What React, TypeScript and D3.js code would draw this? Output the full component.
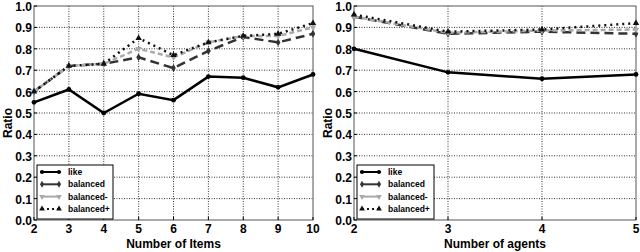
import React from 'react';
import * as d3 from 'd3';

// data
const itemCounts = [2, 3, 4, 5, 6, 7, 8, 9, 10];
const itemsLike = [0.55, 0.61, 0.5, 0.59, 0.56, 0.67, 0.665, 0.62, 0.68];
const itemsBalanced = [0.6, 0.72, 0.73, 0.76, 0.71, 0.79, 0.855, 0.83, 0.87];
const itemsBalancedMinus = [0.6, 0.72, 0.73, 0.8, 0.76, 0.83, 0.86, 0.86, 0.9];
const itemsBalancedPlus = [0.6, 0.72, 0.73, 0.85, 0.77, 0.83, 0.86, 0.87, 0.92];

const agentCounts = [2, 3, 4, 5];
const agentsLike = [0.8, 0.69, 0.66, 0.68];
const agentsBalanced = [0.95, 0.87, 0.88, 0.87];
const agentsBalancedMinus = [0.95, 0.875, 0.885, 0.89];
const agentsBalancedPlus = [0.96, 0.88, 0.89, 0.92];

const seriesNames = ['like', 'balanced', 'balanced-', 'balanced+'];
const yTicks = [0, 0.1, 0.2, 0.3, 0.4, 0.5, 0.6, 0.7, 0.8, 0.9, 1.0];

const styles = [
  { color: '#000', dash: null, symbol: d3.symbolCircle, rot: 0 },
  { color: '#333', dash: '9,5', symbol: d3.symbolDiamond, rot: 0 },
  { color: '#aaa', dash: '5,3', symbol: d3.symbolTriangle, rot: 180 },
  { color: '#111', dash: '2,4', symbol: d3.symbolTriangle, rot: 0 }
];

const font = '"Liberation Sans", Arial, sans-serif';

function Panel(props) {
  const { left, right, top, bottom, xs, series, xlabel, legendW } = props;
  const x = d3.scaleLinear().domain([xs[0], xs[xs.length - 1]]).range([left, right]);
  const y = d3.scaleLinear().domain([0, 1]).range([bottom, top]);
  const line = d3
    .line()
    .x((d, i) => x(xs[i]))
    .y(d => y(d));

  const lgX = left + 3;
  const lgY = bottom - 55;

  return (
    <g>
      {/* grid */}
      {yTicks.slice(1, -1).map(t => (
        <line key={'gy' + t} x1={left} x2={right} y1={y(t)} y2={y(t)} stroke="#000" strokeWidth={0.8} strokeDasharray="1,1.5" />
      ))}
      {xs.slice(1, -1).map(t => (
        <line key={'gx' + t} x1={x(t)} x2={x(t)} y1={top} y2={bottom} stroke="#000" strokeWidth={0.8} strokeDasharray="1,1.5" />
      ))}
      <rect x={left} y={top} width={right - left} height={bottom - top} fill="none" stroke="#555" strokeWidth={1} />

      {/* ticks */}
      {yTicks.map(t => (
        <g key={'ty' + t}>
          <line x1={left} x2={left + 3} y1={y(t)} y2={y(t)} stroke="#000" />
          <text x={left - 2} y={y(t) + 5} textAnchor="end" fontFamily={font} fontWeight="bold" fontSize={12}>
            {d3.format('.1f')(t)}
          </text>
        </g>
      ))}
      {xs.map(t => (
        <g key={'tx' + t}>
          <line x1={x(t)} x2={x(t)} y1={bottom} y2={bottom - 3} stroke="#000" />
          <text x={x(t)} y={bottom + 13} textAnchor="middle" fontFamily={font} fontWeight="bold" fontSize={12}>
            {t}
          </text>
        </g>
      ))}
      <text x={(left + right) / 2} y={bottom + 28} textAnchor="middle" fontFamily={font} fontWeight="bold" fontSize={12}>
        {xlabel}
      </text>
      <text
        transform={`translate(${left - 22},${(top + bottom) / 2 + 10}) rotate(-90)`}
        textAnchor="middle"
        fontFamily={font}
        fontWeight="bold"
        fontSize={12}
      >
        Ratio
      </text>

      {/* lines */}
      {series.map((s, k) => (
        <g key={'s' + k}>
          <path d={line(s)} fill="none" stroke={styles[k].color} strokeWidth={2.5} strokeDasharray={styles[k].dash} />
          {s.map((v, i) => (
            <path
              key={i}
              d={d3.symbol().type(styles[k].symbol).size(18)()}
              transform={`translate(${x(xs[i])},${y(v)}) rotate(${styles[k].rot})`}
              fill={styles[k].color}
            />
          ))}
        </g>
      ))}

      {/* legend */}
      <rect x={lgX} y={lgY} width={legendW} height={bottom - lgY - 1} fill="#fff" stroke="#000" strokeWidth={1} />
      {seriesNames.map((name, k) => {
        const ly = lgY + 7 + k * 12.3;
        return (
          <g key={name}>
            <line x1={lgX + 5} x2={lgX + 22} y1={ly} y2={ly} stroke={styles[k].color} strokeWidth={2} strokeDasharray={k === 3 ? '2,3' : null} />
            {[lgX + 5, lgX + 22].map(px => (
              <path
                key={px}
                d={d3.symbol().type(styles[k].symbol).size(14)()}
                transform={`translate(${px},${ly}) rotate(${styles[k].rot})`}
                fill={styles[k].color}
              />
            ))}
            <text x={lgX + 31} y={ly + 3} fontFamily={font} fontWeight="bold" fontSize={8.5}>
              {name}
            </text>
          </g>
        );
      })}
    </g>
  );
}

export default function App() {
  return (
    <svg width={640} height={252} style={{ position: 'absolute', left: 0, top: 0, background: '#fff' }}>
      <Panel
        left={34}
        right={313}
        top={6}
        bottom={220}
        xs={itemCounts}
        series={[itemsLike, itemsBalanced, itemsBalancedMinus, itemsBalancedPlus]}
        xlabel="Number of Items"
        legendW={76}
      />
      <Panel
        left={354}
        right={636}
        top={6}
        bottom={220}
        xs={agentCounts}
        series={[agentsLike, agentsBalanced, agentsBalancedMinus, agentsBalancedPlus]}
        xlabel="Number of agents"
        legendW={77}
      />
    </svg>
  );
}
